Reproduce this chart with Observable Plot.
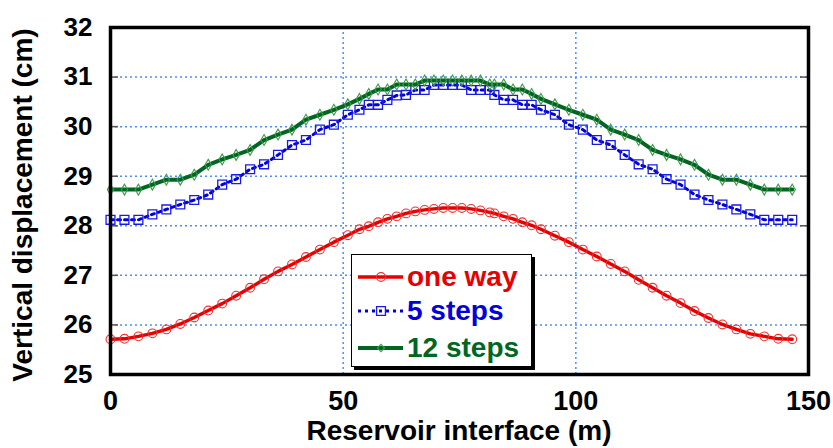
<!DOCTYPE html>
<html><head><meta charset="utf-8">
<script src="https://cdn.jsdelivr.net/npm/d3@7"></script>
<script src="https://cdn.jsdelivr.net/npm/@observablehq/plot@0.6"></script>
<style>
body{margin:0;background:#fff;}
#wrap{position:relative;width:833px;height:448px;font-family:"Liberation Sans",Arial,sans-serif;font-weight:bold;}
#ytitle{position:absolute;left:-177px;top:189px;width:400px;height:32px;line-height:32px;text-align:center;font-size:28px;transform:rotate(-90deg);color:#000;white-space:nowrap;}
#xtitle{position:absolute;left:209px;top:415px;width:500px;height:32px;line-height:32px;text-align:center;font-size:28px;color:#000;white-space:nowrap;}
#legend{position:absolute;left:351px;top:254px;width:179px;height:111px;background:#fff;border:1.5px solid #000;box-shadow:3px 3px 0 #000;}
.lrow{position:absolute;left:4px;height:34px;display:flex;align-items:center;}
.lrow span{font-size:28px;margin-left:3px;}
</style></head><body><div id="wrap"></div>
<script>
// Reservoir interface distance (m)
const distance = [0,3,6,9,12,15,18,21,24,27,30,33,36,39,42,45,48,51,
  53.5,55.5,57.5,59.5,61.5,63.5,65.5,67.5,69.5,71.5,73.5,75.5,77.5,79.5,81.5,
  82.5,84.5,86.5,88.5,90.5,92.5,
  95.5,98.5,101.5,104.5,107.5,110.5,113.5,116.5,119.5,122.5,125.5,128.5,131.5,134.5,137.5,140.5,143.5,146.5];
// Vertical displacement (cm)
const oneWay = [25.71,25.72,25.77,25.83,25.91,26.02,26.15,26.29,26.43,26.59,26.75,26.92,27.08,27.22,27.37,27.52,27.67,27.81,
  27.93,27.99,28.07,28.14,28.19,28.25,28.29,28.32,28.34,28.36,28.36,28.36,28.34,28.31,28.27,
  28.25,28.19,28.14,28.07,28.01,27.93,
  27.80,27.67,27.52,27.38,27.23,27.08,26.91,26.75,26.59,26.44,26.28,26.14,26.01,25.91,25.82,25.77,25.72,25.71];
const fiveSteps = [28.12,28.12,28.12,28.23,28.33,28.43,28.52,28.63,28.83,28.94,29.14,29.24,29.43,29.63,29.73,29.94,30.04,30.24,
  30.34,30.44,30.44,30.54,30.63,30.64,30.74,30.74,30.84,30.84,30.84,30.84,30.74,30.74,30.74,
  30.64,30.54,30.54,30.44,30.44,30.34,
  30.24,30.04,29.94,29.73,29.63,29.43,29.24,29.14,28.94,28.83,28.63,28.52,28.43,28.33,28.23,28.12,28.12,28.12];
const twelveSteps = [28.73,28.73,28.73,28.83,28.93,28.93,29.03,29.23,29.34,29.43,29.53,29.73,29.84,29.94,30.14,30.24,30.34,30.45,
  30.56,30.66,30.75,30.75,30.85,30.85,30.85,30.93,30.93,30.93,30.93,30.93,30.93,30.93,30.85,
  30.85,30.85,30.75,30.75,30.66,30.56,
  30.45,30.34,30.24,30.14,29.94,29.84,29.73,29.53,29.43,29.34,29.23,29.03,28.93,28.93,28.83,28.73,28.73,28.73];
const seriesNames = ["one way", "5 steps", "12 steps"];
const xTicks = [0, 50, 100, 150];
const yTicks = [25, 26, 27, 28, 29, 30, 31, 32];
const xGrid = [50, 100];
const yGrid = [26, 27, 28, 29, 30, 31];
const xTitle = "Reservoir interface (m)";
const yTitle = "Vertical displacement (cm)";

const seriesValues = [oneWay, fiveSteps, twelveSteps];
const rows = seriesNames.flatMap((name, k) => distance.map((x, i) => ({x, y: seriesValues[k][i], series: name})));
const styles = {
  "one way": {line: "#e60000", mark: "#f03030", symbol: "circle", r: 4.4, w: 3.4, dash: null, mw: 1.1},
  "5 steps": {line: "#0000dc", mark: "#1a1ae6", symbol: "square", r: 5.0, w: 3, dash: "3,4", mw: 1.3},
  "12 steps": {line: "#006622", mark: "#3c9a48", symbol: "diamond", r: 3.3, w: 4, dash: null, mw: 1.1}
};

const seriesMarks = seriesNames.flatMap(name => {
  const s = styles[name];
  const d = rows.filter(r => r.series === name);
  return [
    Plot.line(d, {x: "x", y: "y", stroke: s.line, strokeWidth: s.w, strokeDasharray: s.dash, strokeLinejoin: "round"}),
    Plot.dot(d, {x: "x", y: "y", symbol: () => s.symbol, r: s.r, stroke: s.mark, strokeWidth: s.mw, fill: "none"})
  ];
});

const chart = Plot.plot({
  width: 833, height: 448,
  marginLeft: 110, marginRight: 25, marginTop: 27, marginBottom: 74,
  x: {domain: [0, 150]},
  y: {domain: [25, 32]},
  symbol: {type: "identity"},
  style: {background: "white", overflow: "visible"},
  marks: [
    Plot.gridY(yGrid, {stroke: "#4d8cff", strokeOpacity: 1, strokeWidth: 1.5, strokeDasharray: "2,3"}),
    Plot.gridX(xGrid, {stroke: "#4d8cff", strokeOpacity: 1, strokeWidth: 1.5, strokeDasharray: "2,3"}),
    Plot.ruleY(yGrid, {stroke: "#555", strokeWidth: 1.5, insetRight: 690}),
    Plot.ruleY(yGrid, {stroke: "#555", strokeWidth: 1.5, insetLeft: 690}),
    ...seriesMarks,
    Plot.frame({stroke: "black", strokeWidth: 3.5}),
    Plot.axisY(yTicks, {tickSize: 0, tickPadding: 18, fontSize: 26, fontWeight: "bold", fontFamily: "Liberation Sans, Arial, sans-serif", label: null, tickFormat: d => String(d)}),
    Plot.axisX(xTicks, {tickSize: 0, tickPadding: 16, fontSize: 27, fontWeight: "bold", fontFamily: "Liberation Sans, Arial, sans-serif", label: null, tickFormat: d => String(d)})
  ]
});

const wrap = document.getElementById("wrap");
wrap.appendChild(chart);

const yt = document.createElement("div"); yt.id = "ytitle"; yt.textContent = yTitle; wrap.appendChild(yt);
const xt = document.createElement("div"); xt.id = "xtitle"; xt.textContent = xTitle; wrap.appendChild(xt);

// legend
const leg = document.createElement("div"); leg.id = "legend";
const rowTops = [5, 39, 76];
seriesNames.forEach((name, k) => {
  const s = styles[name];
  const row = document.createElement("div"); row.className = "lrow"; row.style.top = rowTops[k] + "px";
  const ns = "http://www.w3.org/2000/svg";
  const svg = document.createElementNS(ns, "svg"); svg.setAttribute("width", 48); svg.setAttribute("height", 20);
  const ln = document.createElementNS(ns, "line");
  ln.setAttribute("x1", 2); ln.setAttribute("x2", 47); ln.setAttribute("y1", 10); ln.setAttribute("y2", 10);
  ln.setAttribute("stroke", s.line); ln.setAttribute("stroke-width", s.w);
  if (s.dash) ln.setAttribute("stroke-dasharray", s.dash);
  svg.appendChild(ln);
  const sym = {circle: d3.symbolCircle, square: d3.symbolSquare, diamond: d3.symbolDiamond2}[s.symbol];
  const p = document.createElementNS(ns, "path");
  p.setAttribute("d", d3.symbol(sym, Math.PI * s.r * s.r)());
  p.setAttribute("transform", "translate(25,10)");
  p.setAttribute("fill", "none"); p.setAttribute("stroke", s.mark); p.setAttribute("stroke-width", s.mw);
  svg.appendChild(p);
  row.appendChild(svg);
  const t = document.createElement("span"); t.textContent = name; t.style.color = s.line;
  row.appendChild(t);
  leg.appendChild(row);
});
wrap.appendChild(leg);
</script></body></html>
